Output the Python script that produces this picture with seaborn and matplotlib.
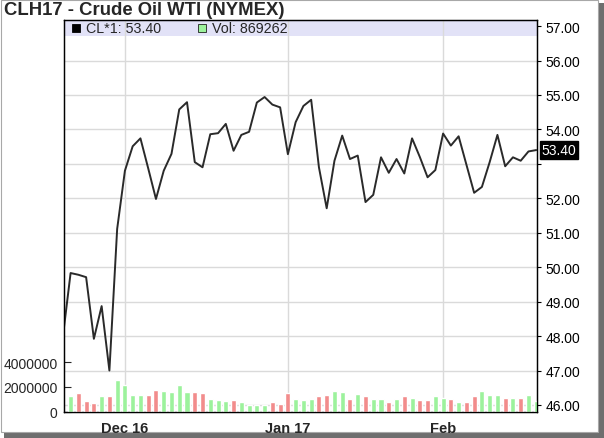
import numpy as np
import pandas as pd
import matplotlib
matplotlib.use("Agg")
import matplotlib.pyplot as plt
import matplotlib.transforms as mtransforms
from matplotlib.patches import Rectangle
import seaborn as sns

# ---------------- data ----------------
title = "CLH17 - Crude Oil WTI (NYMEX)"
symbol = "CL*1"
holidays = ["2016-11-24", "2016-12-26", "2017-01-02", "2017-01-16"]
dates = [d for d in pd.bdate_range("2016-11-18", "2017-02-17")
         if d.strftime("%Y-%m-%d") not in holidays]

price = [47.97, 49.83, 49.78, 49.71, 47.92, 48.87, 47.00, 51.11, 52.80, 53.51,
         53.74, 52.87, 51.98, 52.80, 53.29, 54.58, 54.79, 53.05, 52.90, 53.86,
         53.89, 54.16, 53.38, 53.84, 53.93, 54.78, 54.94, 54.72, 54.64, 53.28,
         54.21, 54.68, 54.86, 52.90, 51.71, 53.09, 53.82, 53.14, 53.24, 51.89,
         52.10, 53.19, 52.74, 53.14, 52.72, 53.74, 53.20, 52.61, 52.82, 53.88,
         53.53, 53.80, 52.98, 52.16, 52.33, 53.05, 53.84, 52.93, 53.19, 53.09,
         53.36, 53.40]

volume = [np.nan, 1230000, 1480000, 890000, 690000, 1230000, 1230000, 2570000, 2150000, 1350000,
          1350000, 1350000, 1780000, 1680000, 1620000, 2120000, 1580000, 1560000, 1490000, 990000,
          900000, 830000, 900000, 810000, 550000, 550000, 550000, 810000, 580000, 1480000,
          990000, 900000, 990000, 1230000, 1340000, 1680000, 1570000, 1010000, 1460000, 1230000,
          980000, 1000000, 790000, 1000000, 1220000, 1110000, 900000, 900000, 1220000, 1110000,
          1000000, 790000, 790000, 1220000, 1680000, 1330000, 1330000, 1110000, 1110000, 1110000,
          1330000, 869262]

month_labels = ["Dec 16", "Jan 17", "Feb"]
price_ticks = [46, 47, 48, 49, 50, 51, 52, 53, 54, 55, 56, 57]
price_tick_labels = ["46.00", "47.00", "48.00", "49.00", "50.00", "51.00", "52.00", "",
                     "54.00", "55.00", "56.00", "57.00"]
vol_ticks = [0, 2000000, 4000000]
vol_tick_labels = ["0", "2000000", "4000000"]

GREEN = "#9cf29c"
RED = "#f28c8c"
LINE = "#2a2a2a"
GRID = "#dadada"
BAND = "#e2e2f7"

# ---------------- figure ----------------
sns.set_style("white")
plt.rcParams["font.family"] = ["Liberation Sans", "DejaVu Sans"]

W, H = 604, 439
fig = plt.figure(figsize=(W / 100, H / 100), dpi=100)
fig.patch.set_facecolor("white")

def fx(px):
    return px / W

def fy(py):
    return 1 - py / H

# frame with drop shadow
fig.patches.append(Rectangle((fx(4), 0), fx(600), 1 - 4 / H, transform=fig.transFigure,
                             facecolor="#6e6e6e", edgecolor="none", zorder=-2))
fig.patches.append(Rectangle((fx(0.5), fy(433)), fx(597), 432.5 / H, transform=fig.transFigure,
                             facecolor="white", edgecolor="#a8a8a8", lw=0.8, zorder=-1))

left, right, top, bottom = 64, 537, 20.7, 412.5
ax = fig.add_axes([fx(left), fy(bottom), (right - left) / W, (bottom - top) / H])

df = pd.DataFrame({"i": np.arange(len(dates)), "date": dates, "price": price, "vol": volume})
df["dir"] = np.where(df["price"].diff() > 0, "up", "down")
month_pos = df.groupby(df["date"].dt.to_period("M"))["i"].min().iloc[1:].tolist()

# price line
sns.lineplot(data=df, x="i", y="price", ax=ax, color=LINE, linewidth=1.4, zorder=4)

# gridlines + band
for v in price_ticks[:-1]:
    ax.axhline(v, color=GRID, lw=1.0, zorder=1)
ax.add_patch(Rectangle((0, 1 - (37.3 - top) / (bottom - top)), 1, (37.3 - top) / (bottom - top),
                       transform=ax.transAxes, facecolor=BAND, edgecolor="none", zorder=1.5))
for p in month_pos:
    ax.axvline(p, color=GRID, lw=1.0, zorder=2)

# volume bars on twin axis
axv = ax.twinx()
sns.barplot(data=df.dropna(subset=["vol"]), x="i", y="vol", hue="dir",
            palette={"up": GREEN, "down": RED}, native_scale=True, dodge=False,
            width=0.65, legend=False, saturation=1, ax=axv)

ax.set_xlim(0.15, 61.1)
ax.set_ylim(45.81, 57.185)
axv.set_ylim(0, 31.85e6)

# axes styling
ax.yaxis.tick_right()
ax.set_yticks(price_ticks)
ax.set_yticklabels(price_tick_labels)
ax.tick_params(axis="y", direction="out", length=3, pad=3, labelsize=10, colors="black")
ax.set_xticks(month_pos)
ax.set_xticklabels(month_labels, fontweight="bold")
ax.tick_params(axis="x", direction="out", length=3, pad=4, labelsize=10.5)

axv.yaxis.tick_left()
axv.set_yticks(vol_ticks)
axv.set_yticklabels(vol_tick_labels)
axv.tick_params(axis="y", direction="in", length=5, pad=4.5, labelsize=10)

for a in (ax, axv):
    a.set_xlabel("")
    a.set_ylabel("")
    for s in a.spines.values():
        s.set_color("black")
        s.set_linewidth(0.9)

# legend band contents
def axpx(px, py):
    return ((px - left) / (right - left), (bottom - py) / (bottom - top))

sq_w = 8 / (right - left)
sq_h = 8 / (bottom - top)
x0, y0 = axpx(72, 33)
ax.add_patch(Rectangle((x0, y0), sq_w, sq_h, transform=ax.transAxes,
                       facecolor="black", edgecolor="black", lw=0.6, zorder=5))
tx, ty = axpx(86, 29)
ax.text(tx, ty, f"{symbol}: {price[-1]:.2f}", transform=ax.transAxes, fontsize=10.3,
        va="center", ha="left", zorder=5)
x1, y1 = axpx(198, 33)
ax.add_patch(Rectangle((x1, y1), sq_w, sq_h, transform=ax.transAxes,
                       facecolor=GREEN, edgecolor="#202020", lw=0.6, zorder=5))
tx2, _ = axpx(212, 29)
ax.text(tx2, ty, f"Vol: {int(volume[-1])}", transform=ax.transAxes, fontsize=10.3,
        va="center", ha="left", zorder=5)

# last price box
trans = mtransforms.blended_transform_factory(ax.transAxes, ax.transData)
ax.text(1 + 4.5 / (right - left), price[-1], f"{price[-1]:.2f}", transform=trans,
        fontsize=10, color="white", va="center", ha="left", zorder=6, clip_on=False,
        bbox=dict(facecolor="black", edgecolor="black", boxstyle="square,pad=0.12"))

# title
fig.text(fx(4), fy(10.5), title, fontsize=13.3, fontweight="bold", va="center", ha="left")

fig.savefig("out.png", dpi=100)
